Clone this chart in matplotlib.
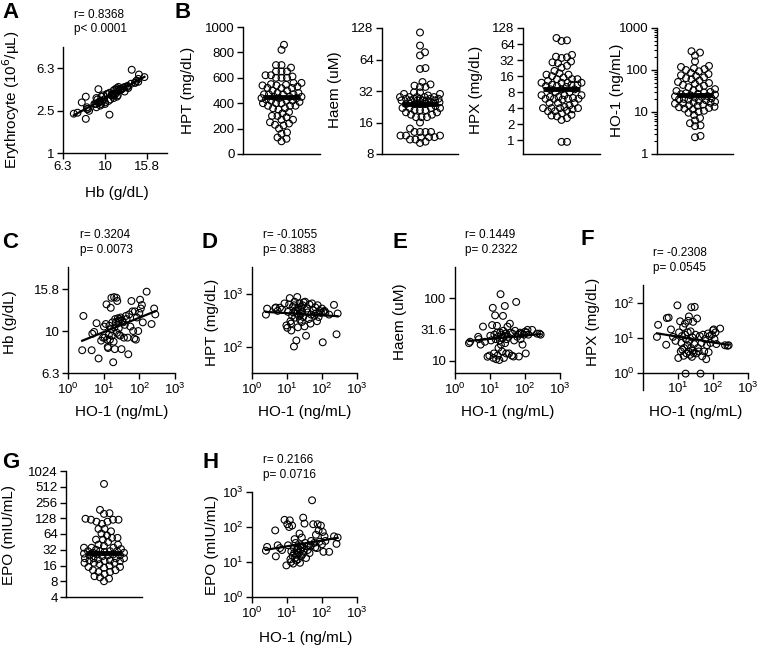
import numpy as np
import matplotlib
matplotlib.use("Agg")
from matplotlib import pyplot as plt
from matplotlib import ticker

plt.rcParams['font.family'] = ['Liberation Sans', 'DejaVu Sans']

# one value per patient (n = 69), ordered by HO-1
ho1 = [2.5, 2.7,
       4.6, 4.8, 5.4, 6.3, 7.2,
       8.5, 9.6, 10.2, 10.7, 11.5,
       12.0, 12.5, 13.0, 13.3, 14.0, 14.5, 15.0, 15.8, 16.0, 16.5, 17.0, 17.5, 18.5, 19.0, 19.6,
       20.0, 20.5, 21.0, 22.0, 22.8, 23.5, 24.0, 25.0, 26.0, 26.5, 27.0, 28.0, 29.0, 30.0,
       31.6, 33.0, 35.0, 37.0, 39.0, 42.0, 44.0, 47.0, 49.0,
       52.0, 56.0, 60.0, 64.0, 67.0, 72.0, 75.0, 80.0, 85.0, 93.0, 100.0,
       105.0, 110.0, 118.0, 125.0, 160.0, 220.0, 260.0, 280.0]
hb = [8.1, 11.8,
      8.1, 9.7, 9.9, 10.9, 7.4,
      9.0, 9.3, 10.5, 9.3, 10.8,
      13.4, 9.1, 8.4, 8.3, 9.6, 10.6, 9.1, 12.9, 10.2, 14.4, 9.5, 11.0, 7.1, 8.9, 14.5,
      10.4, 8.2, 11.4, 11.0, 14.4, 9.8, 13.9, 11.5, 11.2, 10.3, 9.6, 11.4, 9.5, 11.6,
      8.2, 11.2, 11.0, 9.3, 10.7, 11.8, 11.4, 9.3, 7.75,
      12.0, 10.5, 13.9, 12.4, 10.0, 9.2, 12.4, 9.1, 11.6, 10.0, 12.2,
      14.1, 12.8, 13.3, 11.0, 15.4, 10.8, 12.8, 12.0]
rbc = [2.1, 3.9,
       3.4, 3.1, 3.2, 3.5, 2.4,
       2.9, 4.0, 2.3, 3.0, 3.6,
       6.1, 3.3, 2.5, 2.6, 3.4, 3.2, 2.7, 4.1, 3.6, 4.7, 2.8, 3.9, 2.35, 2.9, 5.5,
       3.1, 2.7, 4.1, 3.3, 5.0, 3.5, 4.6, 3.5, 4.0, 3.6, 2.9, 3.4, 3.1, 4.2,
       2.6, 3.6, 3.5, 3.0, 3.5, 4.0, 3.8, 3.0, 3.0,
       4.0, 3.7, 4.6, 3.8, 2.9, 3.2, 4.2, 2.9, 4.0, 3.0, 4.1,
       4.8, 4.2, 4.5, 3.6, 5.2, 3.5, 4.3, 4.0]
hpt = [400, 518,
       530, 545, 470, 540, 500,
       650, 250, 225, 450, 620,
       820, 300, 270, 200, 380, 560, 440, 100, 600, 700, 350, 480, 130, 420, 860,
       470, 230, 540, 380, 650, 320, 500, 410, 560, 290, 450, 600, 360, 680,
       240, 700, 160, 520, 440, 330, 620, 270, 400,
       650, 480, 380, 550, 420, 300, 600, 360, 470, 430, 520,
       120, 450, 470, 440, 400, 610, 170, 420]
haem = [19, 20,
        24, 22, 18, 35, 20,
        11.5, 12, 25, 21, 37,
        70, 11, 13, 26, 53, 22, 10.5, 36, 28, 12, 24, 16, 10.2, 21, 28,
        116, 18, 26, 14, 23, 52, 30, 11, 25, 75, 19, 27, 13, 22,
        35, 24, 13, 39, 28, 12, 27, 11.6, 21,
        30, 87, 24, 26, 11.6, 28, 22, 27, 18, 26, 29,
        13, 28, 31, 26, 31, 27, 27, 26]
hpx = [10.4, 23,
       6.2, 36, 37, 17, 10.4,
       8, 83, 2.6, 14, 29,
       4, 7, 11, 4.5, 20, 3, 5, 25, 12, 0.93, 9, 3.5, 6, 14, 30,
       4, 40, 8, 3.2, 15, 5, 73, 2.8, 10, 4.2, 28, 3.6, 6.5, 75,
       12, 3.5, 35, 5, 4, 11, 0.93, 7, 2.9,
       12, 4, 9, 2.4, 6, 13, 3.8, 11, 7, 12, 16,
       17, 9, 14, 6.5, 18, 6, 5.8, 6]
epo = [21, 27,
       80, 14.5, 30, 25, 22,
       160, 8, 120, 30, 100,
       155, 12, 10, 20, 110, 15, 9, 25, 18, 45, 13, 35, 11, 22, 16,
       28, 12, 24, 18, 65, 9.5, 22, 30, 15, 50, 26, 17, 185, 20,
       125, 35, 13, 28, 22, 30, 18, 29, 40,
       580, 120, 35, 26, 60, 25, 120, 80, 38, 110, 32,
       72, 19.5, 54, 40, 19.5, 54, 33, 50]

stats_A = ["r= 0.8368", "p< 0.0001"]
stats_C = ["r= 0.3204", "p= 0.0073"]
stats_D = ["r= -0.1055", "p= 0.3883"]
stats_E = ["r= 0.1449", "p= 0.2322"]
stats_F = ["r= -0.2308", "p= 0.0545"]
stats_H = ["r= 0.2166", "p= 0.0716"]

W, H = 759, 646
fig = plt.figure(figsize=(W / 100, H / 100), dpi=100)


def axes_px(l, t, r, b):
    return fig.add_axes([l / W, 1 - b / H, (r - l) / W, (b - t) / H])


def put(x, y, s, **kw):
    fig.text(x / W, 1 - y / H, s, **kw)


def style(ax):
    ax.spines['top'].set_visible(False)
    ax.spines['right'].set_visible(False)
    ax.spines['left'].set_linewidth(1.0)
    ax.spines['bottom'].set_linewidth(1.0)
    ax.tick_params(direction='out', length=4, width=1, labelsize=9.5, pad=2)
    ax.tick_params(which='minor', length=2, width=0.8)


def scatter_fit(ax, x, y):
    x = np.array(x, float)
    y = np.array(y, float)
    ax.scatter(x, y, s=24, facecolors='none', edgecolors='black', linewidths=0.8, zorder=3)
    k, b = np.polyfit(np.log10(x), np.log10(y), 1)
    xx = np.array([x.min(), x.max()])
    ax.plot(xx, 10 ** (b + k * np.log10(xx)), 'k-', lw=1.6, zorder=4)


def swarm(ax, vals, half=20, gap=5.5):
    # simple beeswarm: spread points sideways in pixel space
    vals = np.array(vals, float)
    ax.set_xlim(-1, 1)
    pts = ax.transData.transform(np.column_stack([np.zeros(len(vals)), vals]))
    x0 = pts[0, 0]
    ys = pts[:, 1]
    placed = []
    offs = np.zeros(len(vals))
    cands = [0.0]
    for k in range(1, int(half / 0.5) + 1):
        cands += [k * 0.5, -k * 0.5]
    for i in np.argsort(ys):
        best, best_d = 0.0, -1
        for c in cands:
            d = min([np.hypot(c - px, ys[i] - py) for px, py in placed] + [99])
            if d >= gap:
                best = c
                break
            if d > best_d:
                best, best_d = c, d
        placed.append((best, ys[i]))
        offs[i] = best
    inv = ax.transData.inverted()
    xs = inv.transform(np.column_stack([x0 + offs, ys]))[:, 0]
    ax.scatter(xs, vals, s=24, facecolors='none', edgecolors='black', linewidths=0.8, zorder=3)
    ax.plot([-0.48, 0.48], [np.median(vals)] * 2, 'k-', lw=3.5, solid_capstyle='butt', zorder=4)
    ax.set_xticks([])


def log_ticks(ax, axis, ticks, labels):
    a = ax.xaxis if axis == 'x' else ax.yaxis
    a.set_major_locator(ticker.FixedLocator(ticks))
    a.set_major_formatter(ticker.FixedFormatter(labels))
    a.set_minor_locator(ticker.NullLocator())


def pow10(ax, axis, ticks):
    a = ax.xaxis if axis == 'x' else ax.yaxis
    a.set_major_locator(ticker.FixedLocator(ticks))
    a.set_major_formatter(ticker.LogFormatterSciNotation())
    a.set_minor_locator(ticker.NullLocator())


lab = dict(fontsize=11, ha='center', va='center')
big = dict(fontsize=16, fontweight='bold', ha='left', va='center')
sm = dict(fontsize=8.5, ha='left', va='center')

# ---- A
ax = axes_px(63, 47, 167, 153)
style(ax)
ax.set_xscale('log')
ax.set_yscale('log')
ax.set_xlim(10 ** 0.8, 10 ** 1.295)
ax.set_ylim(1, 10)
scatter_fit(ax, hb, rbc)
log_ticks(ax, 'x', [10 ** 0.8, 10, 10 ** 1.2], ['6.3', '10', '15.8'])
log_ticks(ax, 'y', [1, 10 ** 0.4, 10 ** 0.8], ['1', '2.5', '6.3'])
put(2, 13, 'A', **big)
put(74, 15, stats_A[0], **sm)
put(74, 29, stats_A[1], **sm)
put(117, 193, 'Hb (g/dL)', **lab)
put(11, 100, 'Erythrocyte (10$^6$/µL)', rotation=90, **lab)

# ---- B columns
put(175, 13, 'B', **big)

ax = axes_px(243, 27, 320, 154)
style(ax)
ax.set_ylim(0, 1000)
ax.set_yticks([0, 200, 400, 600, 800, 1000])
swarm(ax, hpt)
put(188, 90, 'HPT (mg/dL)', rotation=90, **lab)

ax = axes_px(382, 28, 458, 154)
style(ax)
ax.set_yscale('log', base=2)
ax.set_ylim(8, 128)
log_ticks(ax, 'y', [8, 16, 32, 64, 128], ['8', '16', '32', '64', '128'])
swarm(ax, haem)
put(335, 90, 'Haem (uM)', rotation=90, **lab)

ax = axes_px(523, 28, 600, 154)
style(ax)
ax.set_yscale('log', base=2)
ax.set_ylim(0.55, 128)
log_ticks(ax, 'y', [1, 2, 4, 8, 16, 32, 64, 128], ['1', '2', '4', '8', '16', '32', '64', '128'])
swarm(ax, hpx)
put(476, 90, 'HPX (mg/dL)', rotation=90, **lab)

ax = axes_px(657, 28, 733, 154)
style(ax)
ax.set_yscale('log')
ax.set_ylim(1, 1000)
ax.yaxis.set_major_locator(ticker.FixedLocator([1, 10, 100, 1000]))
ax.yaxis.set_major_formatter(ticker.FixedFormatter(['1', '10', '100', '1000']))
ax.yaxis.set_minor_locator(ticker.LogLocator(base=10, subs=np.arange(2, 10)))
ax.yaxis.set_minor_formatter(ticker.NullFormatter())
swarm(ax, ho1)
put(617, 90, 'HO-1 (ng/mL)', rotation=90, **lab)

# ---- C to F
row = [(68, 175, 'C', hb, stats_C, 'Hb (g/dL)', 10),
       (252, 357, 'D', hpt, stats_D, 'HPT (mg/dL)', 212),
       (455, 560, 'E', haem, stats_E, 'Haem (uM)', 400),
       (643, 748, 'F', hpx, stats_F, 'HPX (mg/dL)', 593)]
for l, r, letter, yv, st, ylab, ylx in row:
    if letter == 'F':
        ax = axes_px(l, 285, r, 390)
    else:
        ax = axes_px(l, 267, r, 373)
    style(ax)
    ax.set_xscale('log')
    ax.set_yscale('log')
    ax.set_xlim(1, 1000)
    scatter_fit(ax, ho1, yv)
    if letter == 'C':
        ax.set_ylim(10 ** 0.8, 10 ** 1.305)
        log_ticks(ax, 'y', [10 ** 0.8, 10, 10 ** 1.2], ['6.3', '10', '15.8'])
    elif letter == 'D':
        ax.set_ylim(10 ** 1.5, 10 ** 3.5)
        pow10(ax, 'y', [100, 1000])
    elif letter == 'E':
        ax.set_ylim(10 ** 0.8, 10 ** 2.5)
        log_ticks(ax, 'y', [10, 10 ** 1.5, 100], ['10', '31.6', '100'])
    else:
        ax.set_ylim(10 ** -0.5, 10 ** 2.5)
        pow10(ax, 'y', [1, 10, 100])
        ax.spines['bottom'].set_position(('data', 1))
    if letter == 'F':
        pow10(ax, 'x', [10, 100, 1000])
    else:
        pow10(ax, 'x', [1, 10, 100, 1000])
    lx = {'C': 2, 'D': 202, 'E': 392, 'F': 580}[letter]
    ly = 239 if letter == 'F' else 242
    put(lx, ly, letter, **big)
    sx = {'C': 80, 'D': 263, 'E': 465, 'F': 653}[letter]
    sy = 253 if letter == 'F' else 235
    put(sx, sy, st[0], **sm)
    put(sx, sy + 15, st[1], **sm)
    put((l + r) / 2, 412, 'HO-1 (ng/mL)', **lab)
    put(ylx, 322, ylab, rotation=90, **lab)

# ---- G
ax = axes_px(66, 471, 142, 597)
style(ax)
ax.set_yscale('log', base=2)
ax.set_ylim(4, 1024)
g_ticks = [4, 8, 16, 32, 64, 128, 256, 512, 1024]
log_ticks(ax, 'y', g_ticks, [str(t) for t in g_ticks])
swarm(ax, epo)
put(2, 462, 'G', **big)
put(9, 535, 'EPO (mIU/mL)', rotation=90, **lab)

# ---- H
ax = axes_px(252, 492, 357, 597)
style(ax)
ax.set_xscale('log')
ax.set_yscale('log')
ax.set_xlim(1, 1000)
ax.set_ylim(1, 1000)
scatter_fit(ax, ho1, epo)
pow10(ax, 'x', [1, 10, 100, 1000])
pow10(ax, 'y', [1, 10, 100, 1000])
put(203, 463, 'H', **big)
put(263, 460, stats_H[0], **sm)
put(263, 475, stats_H[1], **sm)
put(306, 638, 'HO-1 (ng/mL)', **lab)
put(212, 545, 'EPO (mIU/mL)', rotation=90, **lab)

fig.savefig('out.png', dpi=100, facecolor='white')
